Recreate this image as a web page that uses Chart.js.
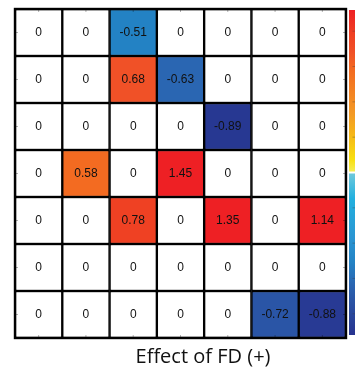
<!DOCTYPE html>
<html>
<head>
<meta charset="utf-8">
<script src="https://cdn.jsdelivr.net/npm/chart.js@4.4.1/dist/chart.umd.min.js"></script>
<style>
  html, body { margin: 0; padding: 0; background: #fff; }
  #wrap { position: relative; width: 356px; height: 373px; }
</style>
</head>
<body>
<div id="wrap"><canvas id="heat"></canvas></div>
<script>
// --- dados ---
const colunas = ['1', '2', '3', '4', '5', '6', '7'];
const linha1 = [0, 0, -0.51, 0, 0, 0, 0];
const linha2 = [0, 0, 0.68, -0.63, 0, 0, 0];
const linha3 = [0, 0, 0, 0, -0.89, 0, 0];
const linha4 = [0, 0.58, 0, 1.45, 0, 0, 0];
const linha5 = [0, 0, 0.78, 0, 1.35, 0, 1.14];
const linha6 = [0, 0, 0, 0, 0, 0, 0];
const linha7 = [0, 0, 0, 0, 0, -0.72, -0.88];
const linhas = [linha1, linha2, linha3, linha4, linha5, linha6, linha7];
const tituloX = 'Effect of FD (+)';
const escalaLimite = 0.92;
const ticksBarra = [-0.8, -0.6, -0.4, -0.2, 0.2, 0.4, 0.6, 0.8];

// colormap (posição 0 = base, 1 = topo)
const mapaPos = [0, 0.11, 0.16, 0.225, 0.3, 0.42, 0.494, 0.5, 0.506, 0.54, 0.63, 0.68, 0.815, 0.87, 0.924, 1];
const mapaCor = ['#27338f', '#2a55a6', '#2a67b3', '#2383c5', '#2a95d2', '#22b0df', '#6cc8dc', '#ffffff',
                 '#f6ec50', '#f8df10', '#f5b01a', '#f39a25', '#f36b21', '#f05127', '#ef4123', '#ee2024'];

function hexRgb(h) {
    return [parseInt(h.slice(1, 3), 16), parseInt(h.slice(3, 5), 16), parseInt(h.slice(5, 7), 16)];
}

function corPara(v) {
    if (v === 0) return '#ffffff';
    let t = 0.5 + v / (2 * escalaLimite);
    t = Math.max(0, Math.min(1, t));
    for (let i = 1; i < mapaPos.length; i++) {
        if (t <= mapaPos[i]) {
            const f = (t - mapaPos[i - 1]) / (mapaPos[i] - mapaPos[i - 1]);
            const a = hexRgb(mapaCor[i - 1]), b = hexRgb(mapaCor[i]);
            const c = a.map((x, k) => Math.round(x + (b[k] - x) * f));
            return `rgb(${c[0]},${c[1]},${c[2]})`;
        }
    }
    return mapaCor[mapaCor.length - 1];
}

const datasets = linhas.map((valores, r) => ({
    label: 'linha ' + (r + 1),
    data: valores.map(() => [r, r + 1]),
    valores: valores,
    backgroundColor: valores.map(corPara),
    borderColor: '#000',
    borderWidth: 1.5,
    borderSkipped: false,
    barPercentage: 1,
    categoryPercentage: 1
}));

// --- plugin: rótulos, moldura, ticks, barra de cores, título ---
const extras = {
    id: 'extras',
    afterDatasetsDraw(chart) {
        const ctx = chart.ctx;
        const area = chart.chartArea;
        const xs = chart.scales.x, ys = chart.scales.y;

        // rótulos das células
        ctx.save();
        ctx.font = '12px "Liberation Sans", Arial, sans-serif';
        ctx.fillStyle = '#111';
        ctx.textAlign = 'center';
        ctx.textBaseline = 'middle';
        chart.data.datasets.forEach((ds, r) => {
            chart.getDatasetMeta(r).data.forEach((bar, i) => {
                const c = bar.getCenterPoint();
                ctx.fillText(String(ds.valores[i]), c.x, c.y + 0.5);
            });
        });

        // ticks internos
        ctx.strokeStyle = 'rgba(0,0,0,0.3)';
        ctx.lineWidth = 1;
        colunas.forEach((_, i) => {
            const px = xs.getPixelForValue(i);
            ctx.beginPath();
            ctx.moveTo(px, area.top); ctx.lineTo(px, area.top + 3);
            ctx.moveTo(px, area.bottom); ctx.lineTo(px, area.bottom - 3);
            ctx.stroke();
        });
        linhas.forEach((_, r) => {
            const py = ys.getPixelForValue(r + 0.5);
            ctx.beginPath();
            ctx.moveTo(area.left, py); ctx.lineTo(area.left + 3, py);
            ctx.moveTo(area.right, py); ctx.lineTo(area.right - 3, py);
            ctx.stroke();
        });

        // moldura externa
        ctx.strokeStyle = '#000';
        ctx.lineWidth = 2.4;
        ctx.strokeRect(area.left, area.top, area.right - area.left, area.bottom - area.top);

        // barra de cores
        const bx = area.right + 3, bw = 6;
        const bt = area.top + 1, bb = area.bottom - 3;
        const grad = ctx.createLinearGradient(0, bb, 0, bt);
        mapaPos.forEach((p, i) => grad.addColorStop(p, mapaCor[i]));
        ctx.fillStyle = grad;
        ctx.fillRect(bx, bt, bw, bb - bt);
        ctx.strokeStyle = 'rgba(60,60,60,0.35)';
        ctx.lineWidth = 1;
        ticksBarra.forEach(v => {
            const py = bb - (0.5 + v / (2 * escalaLimite)) * (bb - bt);
            ctx.beginPath();
            ctx.moveTo(bx + bw - 2.5, py); ctx.lineTo(bx + bw, py);
            ctx.stroke();
        });

        // título do eixo x
        ctx.font = '20px "Open Sans", "Liberation Sans", sans-serif';
        ctx.fillStyle = '#111';
        ctx.textAlign = 'center';
        ctx.textBaseline = 'alphabetic';
        ctx.fillText(tituloX, 203, area.bottom + 25);
        ctx.restore();
    }
};

new Chart(document.getElementById('heat').getContext('2d'), {
    type: 'bar',
    data: { labels: colunas, datasets: datasets },
    options: {
        responsive: true,
        maintainAspectRatio: false,
        animation: false,
        layout: { padding: { left: 15, right: 10, top: 9, bottom: 35 } },
        plugins: { legend: { display: false }, tooltip: { enabled: false } },
        scales: {
            x: { display: false, stacked: true },
            y: { display: false, min: 0, max: 7, reverse: true }
        }
    },
    plugins: [extras]
});
</script>
</body>
</html>
